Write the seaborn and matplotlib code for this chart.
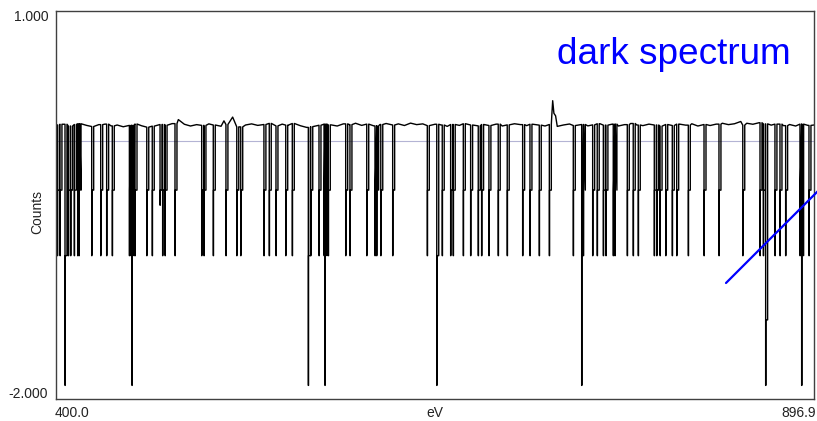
import numpy as np
import pandas as pd
import matplotlib
matplotlib.use("Agg")
import matplotlib.pyplot as plt
from matplotlib.lines import Line2D
import seaborn as sns

# ---- data -----------------------------------------------------------------
EV_MIN, EV_MAX = 400.0, 896.9

# detector floor level sampled evenly from EV_MIN to EV_MAX
baseline_counts = [
    0.128, 0.133, 0.119, 0.131, 0.137, 0.124, 0.115, 0.130, 0.134, 0.120,
    0.127, 0.113, 0.124, 0.135, 0.121, 0.110, 0.118, 0.131, 0.125, 0.138,
    0.128, 0.133, 0.119, 0.130, 0.124, 0.136, 0.127, 0.117, 0.131, 0.121,
    0.112, 0.127, 0.136, 0.124, 0.131, 0.140, 0.120, 0.134, 0.126, 0.139,
    0.121, 0.108, 0.114, 0.125, 0.134, 0.128, 0.119, 0.136, 0.130, 0.141,
    0.124, 0.134, 0.120, 0.131, 0.139, 0.127, 0.136, 0.123, 0.142, 0.130,
    0.136, 0.122, 0.133, 0.127, 0.116, 0.131, 0.124, 0.137, 0.127, 0.120,
    0.131, 0.123, 0.134, 0.119, 0.128, 0.137, 0.130, 0.122, 0.133, 0.126,
    0.119, 0.131, 0.116, 0.127, 0.135, 0.123, 0.131, 0.120, 0.128, 0.137,
    0.126, 0.134, 0.119, 0.130, 0.139, 0.127, 0.122, 0.134, 0.127, 0.118,
    0.131, 0.123, 0.134, 0.126, 0.137, 0.119, 0.131, 0.123, 0.134, 0.141,
    0.130, 0.137, 0.126, 0.141, 0.133, 0.145, 0.136, 0.126, 0.134, 0.122,
    0.131, 0.119, 0.134, 0.124, 0.127,
]

# small positive excursions
bump_ev = [480.2, 510.1, 515.8, 725.0, 725.6, 726.4, 727.5, 848.9]
bump_counts = [0.17, 0.16, 0.19, 0.20, 0.32, 0.22, 0.20, 0.155]

# dead-pixel dropouts reaching about -0.9
mid_spike_ev = [
    400.9, 402.6, 408.1, 409.6, 412.0, 414.2, 415.1, 423.4, 429.3, 433.2,
    436.9, 448.1, 449.2, 451.8, 459.5, 463.1, 469.9, 471.5, 478.0, 495.5,
    497.0, 503.1, 511.4, 518.5, 521.1, 536.3, 539.8, 544.2, 550.6, 554.9,
    567.0, 572.4, 575.7, 578.5, 589.9, 592.7, 603.7, 609.1, 610.2, 612.9,
    620.7, 643.4, 653.2, 658.7, 660.4, 667.0, 671.8, 676.8, 679.0, 683.8,
    689.9, 695.8, 705.9, 710.7, 716.8, 723.4, 739.1, 745.7, 751.8, 754.8,
    758.8, 760.5, 765.3, 766.4, 774.5, 778.4, 781.7, 792.2, 793.8, 796.0,
    799.7, 804.0, 806.9, 814.5, 824.8, 834.6, 850.2, 861.5, 863.7, 871.3,
    874.6, 878.3, 887.7, 893.6,
]
mid_spike_floor = -0.91
mid_spike_shoulder = -0.39

# a partial dropout
short_spike_ev = [468.2]
short_spike_floor = [-0.51]

# full-depth dropouts
deep_spike_ev = [405.9, 449.8, 565.4, 576.3, 649.6, 744.6, 865.2, 888.8]
deep_spike_shoulder = [-0.91, -0.91, -0.91, -0.91, -0.91, -0.91, -1.42, -0.91]
deep_spike_floor = -1.94

# ---- assemble the trace ---------------------------------------------------
base_ev = np.linspace(EV_MIN, EV_MAX, len(baseline_counts))
base_val = np.asarray(baseline_counts)
pix = 0.15    # width of the deepest channel
width = 1.3   # full width of a dropout

spikes = ([(e, mid_spike_shoulder, mid_spike_floor) for e in mid_spike_ev]
          + [(e, mid_spike_shoulder, f) for e, f in zip(short_spike_ev, short_spike_floor)]
          + [(e, s, deep_spike_floor) for e, s in zip(deep_spike_ev, deep_spike_shoulder)])

keep = np.ones(len(base_ev), bool)
pts = []
for e, sh, fl in spikes:
    keep &= ~((base_ev >= e) & (base_ev <= e + width))
    b = base_val[np.argmin(np.abs(base_ev - e))]
    # drop to the floor, climb to the shoulder, then back to the floor level
    pts += [(e, b), (e + 1e-3, fl), (e + pix, fl), (e + pix + 1e-3, sh),
            (e + width, sh), (e + width + 1e-3, b)]
for e, v in zip(bump_ev, bump_counts):
    keep &= ~(np.abs(base_ev - e) < 0.6)
    pts.append((e, v))
pts += list(zip(base_ev[keep], base_val[keep]))

trace = pd.DataFrame(pts, columns=["eV", "Counts"]).sort_values("eV", kind="stable")
trace = trace[(trace.eV >= EV_MIN) & (trace.eV <= EV_MAX)]

# ---- figure -----------------------------------------------------------------
sns.set_style("white")
plt.rcParams["font.family"] = ["Liberation Sans", "DejaVu Sans"]

W, H = 817, 421
fig = plt.figure(figsize=(W / 100, H / 100), dpi=100)
ax = fig.add_axes([56 / W, 1 - 399 / H, 758 / W, 388 / H])

ax.axhline(0.0, color="#b4b4d4", lw=0.8, zorder=1)
sns.lineplot(data=trace, x="eV", y="Counts", ax=ax, color="black",
             lw=1.0, estimator=None, sort=False, zorder=2)

ax.set_xlim(EV_MIN, EV_MAX)
ax.set_ylim(-2.048, 1.032)
ax.set_yticks([1.0, -2.0])
ax.set_yticklabels(["1.000", "-2.000"], fontsize=10, color="#222222")
ax.set_xticks([])
ax.tick_params(axis="y", length=0, pad=5.5)
ax.set_xlabel("")
ax.set_ylabel("")
for s in ax.spines.values():
    s.set_color("#404040")
    s.set_linewidth(1.0)

txt = dict(fontsize=10, color="#222222", va="center")
fig.text(55 / W, 1 - 413 / H, "400.0", ha="left", **txt)
fig.text(816 / W, 1 - 413 / H, "896.9", ha="right", **txt)
fig.text(435 / W, 1 - 413 / H, "eV", ha="center", **txt)
fig.text(37 / W, 1 - 212 / H, "Counts", ha="center", rotation=90, **txt)

fig.text(557 / W, 1 - 64 / H, "dark spectrum", fontsize=26.6, color="#0000ff",
         ha="left", va="baseline")
fig.add_artist(Line2D([726 / W, 824 / W], [1 - 283 / H, 1 - 185 / H],
                      transform=fig.transFigure, color="#0000ff", lw=1.6,
                      clip_on=False))

fig.savefig("out.png", dpi=100)
